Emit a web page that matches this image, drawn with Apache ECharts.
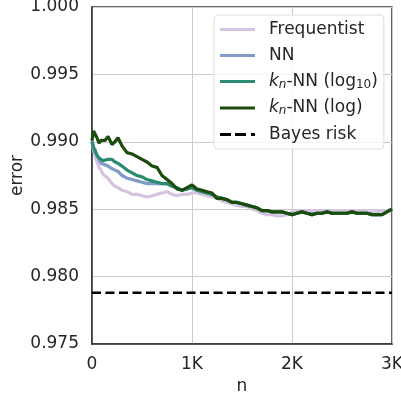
<!DOCTYPE html>
<html>
<head>
<meta charset="utf-8">
<script src="https://cdn.jsdelivr.net/npm/echarts@6/dist/echarts.min.js"></script>
<style>
  html, body { margin: 0; padding: 0; background: #fff; }
  #chart { width: 401px; height: 398px; }
</style>
</head>
<body>
<div id="chart"></div>
<script>
// sample sizes n at which the running error is recorded
const nValues = [0, 15, 30, 50, 70, 90, 110, 130, 160, 200, 230, 260, 300, 350, 400, 450, 500, 550, 600, 650,
  700, 750, 800, 850, 900, 950, 1000, 1050, 1100, 1150, 1200, 1250, 1300, 1350, 1400, 1450, 1500, 1550, 1600, 1650,
  1700, 1750, 1800, 1850, 1900, 1950, 2000, 2050, 2100, 2150, 2200, 2250, 2300, 2350, 2400, 2450, 2500, 2550, 2600, 2650,
  2700, 2750, 2800, 2850, 2900, 2950, 3000];

const frequentist = [0.9900, 0.9894, 0.9890, 0.9885, 0.9881, 0.9879, 0.9876, 0.9875, 0.9873, 0.9869, 0.9867, 0.9866, 0.9864, 0.9863, 0.9861, 0.9861, 0.9860, 0.9859, 0.9860, 0.9861,
  0.9862, 0.9863, 0.9861, 0.9860, 0.9861, 0.9861, 0.9862, 0.9862, 0.9861, 0.9860, 0.9859, 0.9858, 0.9856, 0.9855, 0.9854, 0.9853, 0.9852, 0.9852, 0.9850, 0.9849,
  0.9847, 0.9846, 0.9846, 0.9845, 0.9845, 0.9846, 0.9848, 0.9848, 0.9849, 0.9849, 0.9849, 0.9849, 0.9849, 0.9849, 0.9849, 0.9848, 0.9849, 0.9849, 0.9849, 0.9849,
  0.9849, 0.9848, 0.9848, 0.9848, 0.9849, 0.9849, 0.9850];

const nn = [0.9901, 0.9895, 0.9892, 0.9890, 0.9887, 0.9884, 0.9883, 0.9883, 0.9882, 0.9880, 0.9879, 0.9878, 0.9875, 0.9873, 0.9872, 0.9871, 0.9870, 0.9869, 0.9869, 0.9869,
  0.9869, 0.9869, 0.9867, 0.9866, 0.9864, 0.9865, 0.9866, 0.9864, 0.9863, 0.9862, 0.9861, 0.9859, 0.9858, 0.9857, 0.9855, 0.9855, 0.9854, 0.9853, 0.9852, 0.9851,
  0.9849, 0.9849, 0.9848, 0.9848, 0.9848, 0.9847, 0.9846, 0.9847, 0.9848, 0.9847, 0.9846, 0.9847, 0.9847, 0.9848, 0.9847, 0.9847, 0.9847, 0.9847, 0.9848, 0.9847,
  0.9847, 0.9847, 0.9846, 0.9846, 0.9846, 0.9848, 0.9850];

const knnLog10 = [0.9900, 0.9896, 0.9894, 0.9890, 0.9888, 0.9887, 0.9886, 0.9887, 0.9887, 0.9887, 0.9885, 0.9884, 0.9882, 0.9879, 0.9877, 0.9875, 0.9874, 0.9872, 0.9871, 0.9870,
  0.9869, 0.9869, 0.9867, 0.9866, 0.9864, 0.9865, 0.9866, 0.9864, 0.9863, 0.9862, 0.9861, 0.9859, 0.9858, 0.9857, 0.9855, 0.9855, 0.9854, 0.9853, 0.9852, 0.9851,
  0.9849, 0.9849, 0.9848, 0.9848, 0.9848, 0.9847, 0.9846, 0.9847, 0.9848, 0.9847, 0.9846, 0.9847, 0.9847, 0.9848, 0.9847, 0.9847, 0.9847, 0.9847, 0.9848, 0.9847,
  0.9847, 0.9847, 0.9846, 0.9846, 0.9846, 0.9848, 0.9850];

const knnLog = [0.9901, 0.9908, 0.9907, 0.9903, 0.9899, 0.9901, 0.9900, 0.9901, 0.9904, 0.9898, 0.9900, 0.9903, 0.9897, 0.9892, 0.9891, 0.9889, 0.9887, 0.9885, 0.9882, 0.9881,
  0.9875, 0.9872, 0.9869, 0.9865, 0.9864, 0.9866, 0.9868, 0.9865, 0.9864, 0.9863, 0.9862, 0.9858, 0.9858, 0.9857, 0.9855, 0.9855, 0.9854, 0.9853, 0.9852, 0.9851,
  0.9849, 0.9849, 0.9848, 0.9848, 0.9848, 0.9847, 0.9846, 0.9847, 0.9848, 0.9847, 0.9846, 0.9847, 0.9847, 0.9848, 0.9847, 0.9847, 0.9847, 0.9847, 0.9848, 0.9847,
  0.9847, 0.9847, 0.9846, 0.9846, 0.9846, 0.9848, 0.9850];

const bayesRisk = 0.9788;
const xRange = [0, 3000];
const yTicks = ['0.975', '0.980', '0.985', '0.990', '0.995', '1.000'];

const FONT = 'DejaVu Sans';
const TEXT = '#262626';
const LINE_ICON = 'rect';
const DASH_ICON = 'path://M0,0h11v3h-11z M15,0h11v3h-11z M31,0h4v3h-4z';

function pairs(values) {
  return nValues.map((n, i) => [n, values[i]]);
}

function curve(name, values, color) {
  return {
    name: name,
    type: 'line',
    data: pairs(values),
    symbol: 'none',
    animation: false,
    lineStyle: { color: color, width: 3.2 },
    itemStyle: { color: color }
  };
}

const legendLabels = {
  'Frequentist': '{t|Frequentist}',
  'NN': '{t|NN}',
  'kn-NN (log10)': '{i|k}{si|n}{t|-NN (log}{sub|10}{t|)}',
  'kn-NN (log)': '{i|k}{si|n}{t|-NN (log)}',
  'Bayes risk': '{t|Bayes risk}'
};

const chart = echarts.init(document.getElementById('chart'), null, { renderer: 'canvas' });
chart.setOption({
  animation: false,
  backgroundColor: '#ffffff',
  textStyle: { fontFamily: FONT },
  grid: {
    left: 92, right: 9, top: 7, bottom: 54,
    containLabel: false,
    outerBoundsMode: 'none',
    show: true, borderColor: '#333333', borderWidth: 1.5
  },
  legend: {
    orient: 'vertical',
    left: 214,
    top: 15,
    padding: [6, 6, 6, 6],
    itemGap: 9,
    itemWidth: 35,
    itemHeight: 3,
    backgroundColor: 'rgba(255,255,255,0.8)',
    borderColor: '#dddddd',
    borderWidth: 1,
    borderRadius: 4,
    data: [
      { name: 'Frequentist', icon: LINE_ICON },
      { name: 'NN', icon: LINE_ICON },
      { name: 'kn-NN (log10)', icon: LINE_ICON },
      { name: 'kn-NN (log)', icon: LINE_ICON },
      { name: 'Bayes risk', icon: DASH_ICON }
    ],
    formatter: name => legendLabels[name],
    textStyle: {
      fontFamily: FONT,
      fontSize: 17,
      color: TEXT,
      padding: [0, 0, 0, 9],
      rich: {
        t: { fontFamily: FONT, fontSize: 17, color: TEXT, lineHeight: 18 },
        i: { fontFamily: FONT, fontSize: 17, fontStyle: 'italic', color: TEXT, lineHeight: 18 },
        si: { fontFamily: FONT, fontSize: 12, fontStyle: 'italic', color: TEXT, verticalAlign: 'bottom', lineHeight: 4 },
        sub: { fontFamily: FONT, fontSize: 12, color: TEXT, verticalAlign: 'bottom', lineHeight: 4 }
      }
    }
  },
  xAxis: {
    type: 'value',
    min: xRange[0], max: xRange[1], interval: 1000,
    name: 'n', nameLocation: 'middle', nameGap: 32,
    nameTextStyle: { fontFamily: FONT, fontSize: 17, color: TEXT },
    axisLine: { show: true, lineStyle: { color: '#333333', width: 1.5 } },
    axisTick: { show: false },
    axisLabel: {
      fontFamily: FONT, fontSize: 17, color: TEXT, margin: 12,
      formatter: v => v === 0 ? '0' : (v / 1000) + 'K'
    },
    splitLine: { show: true, lineStyle: { color: '#cccccc', width: 1 } }
  },
  yAxis: {
    type: 'value',
    min: 0.975, max: 1.0, interval: 0.005,
    name: 'error', nameLocation: 'middle', nameGap: 66,
    nameMoveOverlap: false,
    nameTextStyle: { fontFamily: FONT, fontSize: 17, color: TEXT },
    axisLine: { show: true, lineStyle: { color: '#333333', width: 1.5 } },
    axisTick: { show: false },
    axisLabel: {
      fontFamily: FONT, fontSize: 17, color: TEXT, margin: 13,
      formatter: v => {
        const idx = Math.round((v - 0.975) / 0.005);
        return yTicks[idx] !== undefined ? yTicks[idx] : v.toFixed(3);
      }
    },
    splitLine: { show: true, lineStyle: { color: '#cccccc', width: 1 } }
  },
  series: [
    curve('Frequentist', frequentist, '#d6c3e0'),
    curve('NN', nn, '#7f9bc8'),
    curve('kn-NN (log10)', knnLog10, '#2a8b70'),
    curve('kn-NN (log)', knnLog, '#1c4c0c'),
    {
      name: 'Bayes risk',
      type: 'line',
      data: xRange.map(n => [n, bayesRisk]),
      symbol: 'none',
      animation: false,
      lineStyle: { color: '#000000', width: 2.6, type: [9, 4.5] },
      itemStyle: { color: '#000000' }
    }
  ]
});
</script>
</body>
</html>
